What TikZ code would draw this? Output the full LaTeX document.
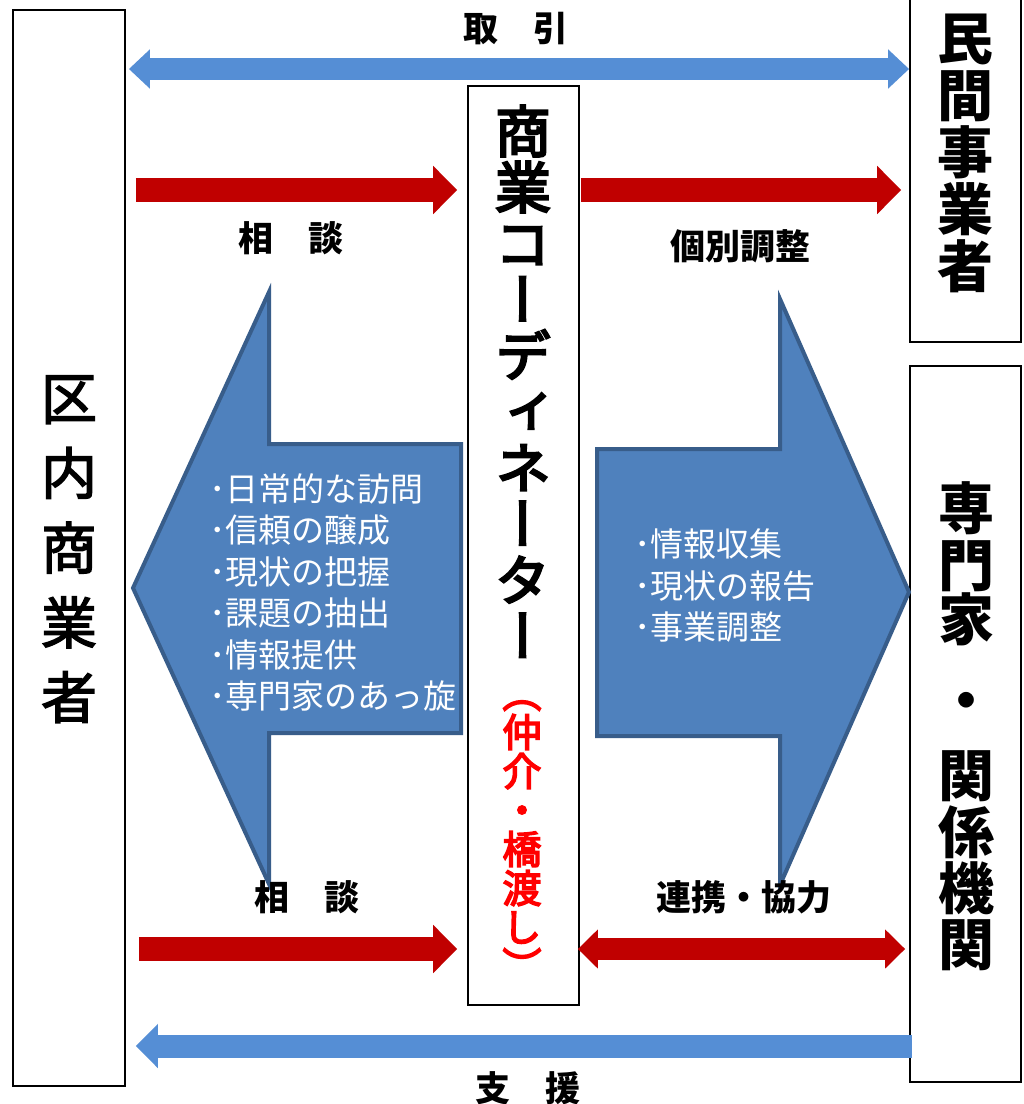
\documentclass[tikz,border=0pt]{standalone}
\usepackage{fontspec}
\newfontfamily\jp{Noto Sans CJK JP}
\newfontfamily\jpv[RawFeature=+vert]{Noto Sans CJK JP}
\newfontfamily\jpvm[RawFeature=+vert, FakeBold=4]{Noto Sans CJK JP}
\newfontfamily\jpvl[RawFeature=+vert, FakeBold=2.5]{Noto Sans CJK JP}
\usetikzlibrary{arrows.meta}
\definecolor{arrblue}{HTML}{558ED5}
\definecolor{arrred}{HTML}{C00000}
\definecolor{bigfill}{HTML}{4F81BD}
\definecolor{bigedge}{HTML}{385D8A}
\definecolor{mred}{HTML}{FF0000}
\tikzset{
  bluetipA/.tip={Triangle[length=21pt,width=38pt]},
  bluetipB/.tip={Triangle[length=22pt,width=43pt]},
  redtipA/.tip={Triangle[length=24pt,width=47pt]},
  redtipB/.tip={Triangle[length=20pt,width=38pt]},
}
\begin{document}
\begin{tikzpicture}[x=1pt,y=-1pt,
  box/.style={draw=black, line width=1.8pt, fill=white, inner sep=0pt, rectangle},
  vch/.style={anchor=base, inner sep=0pt, yshift={-0.38*#1}, font=\jpv\bfseries\fontsize{#1}{#1}\selectfont},
  vchm/.style={anchor=base, inner sep=0pt, yshift={-0.38*#1}, font=\jpvm\fontsize{#1}{#1}\selectfont},
  vchl/.style={anchor=base, inner sep=0pt, yshift={-0.38*#1}, font=\jpvl\fontsize{#1}{#1}\selectfont},
  lbl/.style={anchor=base, inner sep=0pt, yshift={-0.38*35}, font=\jp\bfseries\fontsize{35}{35}\selectfont},
  bul/.style={anchor=base west, inner sep=0pt, yshift={-0.38*33}, text=white, font=\jp\fontsize{33}{33}\selectfont},
  bigarrow/.style={fill=bigfill, draw=bigedge, line width=4pt, line join=miter},
]
\useasboundingbox (0,0) rectangle (1024,1104);
\fill[white] (0,0) rectangle (1024,1104);

% rows for connectors
\coordinate (rowA) at (0,69);
\coordinate (rowB) at (0,190);
\coordinate (rowC) at (0,949);
\coordinate (rowD) at (0,1046);

% boxes
\node[box, minimum width=112pt, minimum height=1076pt] (kunai) at (69,548) {};
\node[box, minimum width=111pt, minimum height=348pt] (minkan) at (965.5,168) {};
\node[box, minimum width=111pt, minimum height=716pt] (senmon) at (965.5,724) {};
\node[box, minimum width=111pt, minimum height=919pt] (coord) at (523.5,545.5) {};

% connectors
\draw[arrblue, line width=22pt, {bluetipA}-{bluetipA}, shorten <=3pt]
  (kunai.east |- rowA) -- (minkan.west |- rowA);
\draw[arrred, line width=24pt, -{redtipA}, shorten <=10pt, shorten >=10pt]
  (kunai.east |- rowB) -- (coord.west |- rowB);
\draw[arrred, line width=24pt, -{redtipA}, shorten <=1pt, shorten >=8pt]
  (coord.east |- rowB) -- (minkan.west |- rowB);
\draw[arrred, line width=24pt, -{redtipA}, shorten <=13pt, shorten >=10pt]
  (kunai.east |- rowC) -- (coord.west |- rowC);
\draw[arrred, line width=22pt, {redtipB}-{redtipB}, shorten <=-2pt, shorten >=4pt]
  (coord.east |- rowC) -- (senmon.west |- rowC);
\draw[arrblue, line width=23pt, -{bluetipB}, shorten <=-3pt, shorten >=10pt]
  (senmon.west |- rowD) -- (kunai.east |- rowD);

% big block arrows
\draw[bigarrow] (133,588) -- (269,292) -- (269,444) -- (461,444) -- (461,733)
  -- (269,733) -- (269,884) -- cycle;
\draw[bigarrow] (597,449) -- (780,449) -- (780,299) -- (909,592) -- (780,885)
  -- (780,736) -- (597,736) -- cycle;

% vertical texts
\foreach \c [count=\i from 0] in {区,内,商,業,者}
  \node[vchl=56] (ku\i) at (69,398+74.8*\i) {\c};
\foreach \c [count=\i from 0] in {民,間,事,業,者}
  \node[vch=56] (mi\i) at (965,38+57*\i) {\c};
\foreach \c/\yy [count=\i from 0] in {専/508,門/565,家/619,・/700,関/775,係/832,機/888,関/944}
  \node[vch=56] (se\i) at (966,\yy) {\c};
\foreach \c [count=\i from 0] in {商,業,コ,ー,デ,ィ,ネ,ー,タ,ー}
  \node[vchm=56] (cd\i) at (523,131+56.1*\i) {\c};
\foreach \c [count=\i from 0] in {（,仲,介,・,橋,渡,し,）}
  \node[vchm=39, text=mred] (rd\i) at (522,693+39*\i) {\c};

% labels
\node[lbl] (torihiki) at (516,28) {取　引};
\node[lbl] (sodanA) at (291,238) {相　談};
\node[lbl] (kobetsu) at (740,246) {個別調整};
\node[lbl] (sodanB) at (307,897) {相　談};
\node[lbl] (renkei) at (744,897) {連携・協力};
\node[lbl] (shien) at (528,1088) {支　援};

% bullet texts
\foreach \t [count=\i from 0] in {･日常的な訪問,･信頼の醸成,･現状の把握,･課題の抽出,･情報提供,･専門家のあっ旋}
  \node[bul] (lb\i) at (209,489+41.4*\i) {\t};
\foreach \t [count=\i from 0] in {･情報収集,･現状の報告,･事業調整}
  \node[bul] (rb\i) at (634,544+41.5*\i) {\t};
\end{tikzpicture}
\end{document}
